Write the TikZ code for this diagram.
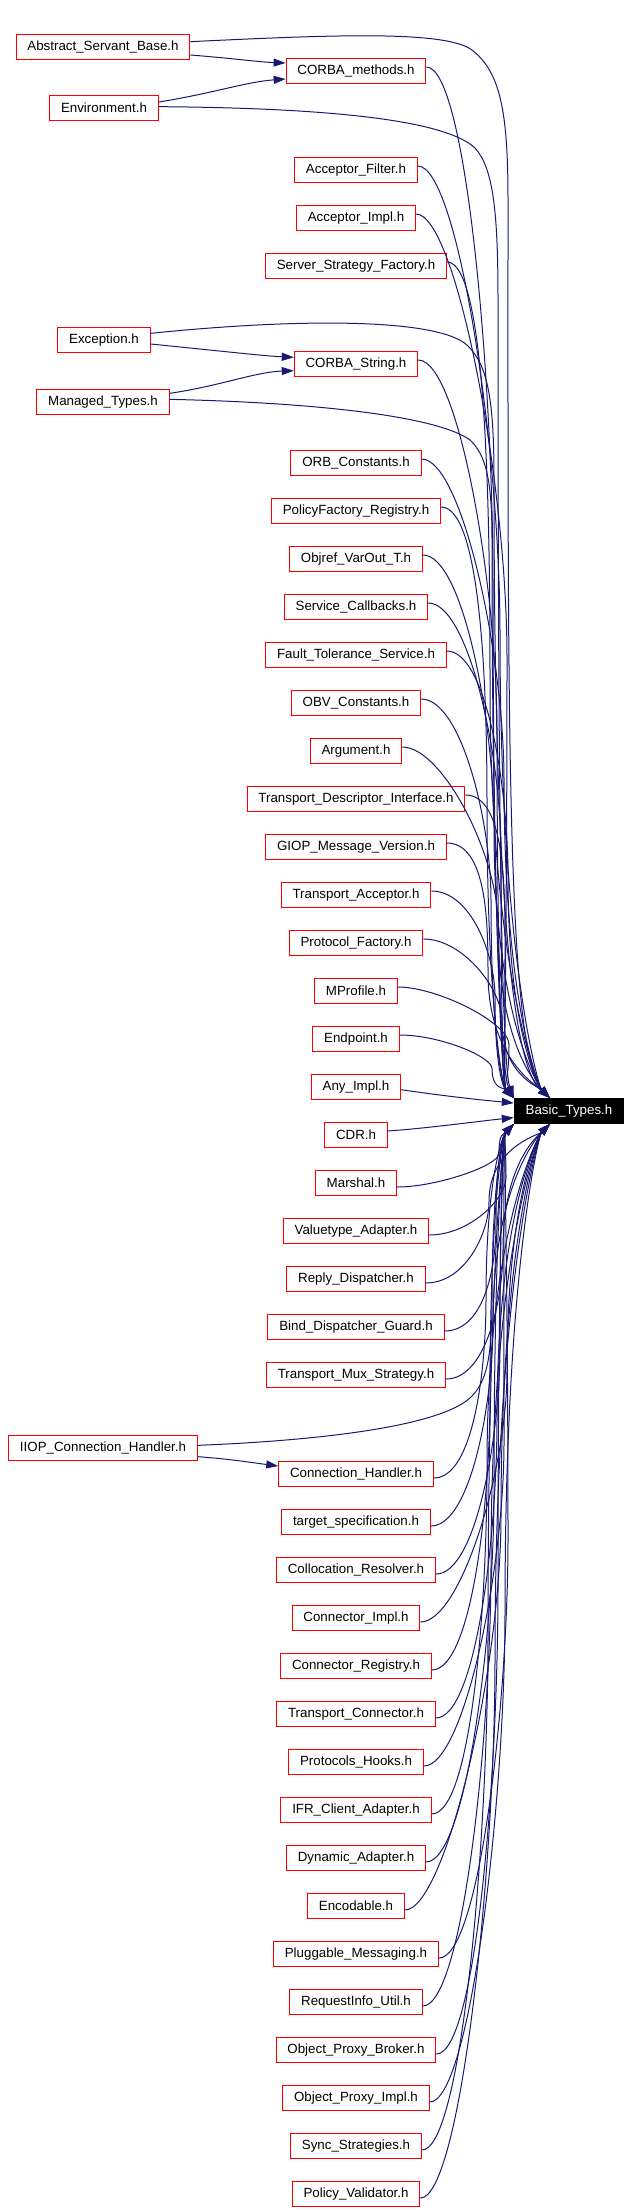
\documentclass[tikz,border=0pt]{standalone}
\usepackage{fontspec}
\setmainfont{Liberation Sans}
\usetikzlibrary{arrows.meta,calc}
\definecolor{edgeblue}{HTML}{191970}
\tikzset{
  file/.style={draw=red, line width=0.75pt, fill=white, minimum height=18.75pt,
    inner xsep=8.5pt, inner ysep=0pt, font=\fontsize{10}{12}\selectfont},
  dep/.style={->, draw=edgeblue, line width=0.75pt},
}

\begin{document}
\begin{tikzpicture}[x=0.75pt, y=-0.75pt, >={Triangle[length=9pt,width=6pt]}]
\useasboundingbox (0,0) rectangle (631,2212);

% files that include Basic_Types.h
\node[file] (asb) at (103,47) {Abstract\_Servant\_Base.h};
\node[file] (env) at (104,108) {Environment.h};
\node[file] (exc) at (104,340) {Exception.h};
\node[file] (mtyp) at (103,402) {Managed\_Types.h};
\node[file] (iiop) at (103,1448) {IIOP\_Connection\_Handler.h};

\node[file] (cmeth) at (356,71) {CORBA\_methods.h};
\node[file] (afil) at (356,170) {Acceptor\_Filter.h};
\node[file] (aimpl) at (356,218) {Acceptor\_Impl.h};
\node[file] (ssf) at (356,266) {Server\_Strategy\_Factory.h};
\node[file] (cstr) at (356,364) {CORBA\_String.h};
\node[file] (orbc) at (356,463) {ORB\_Constants.h};
\node[file] (pfr) at (356,511) {PolicyFactory\_Registry.h};
\node[file] (objref) at (356,559) {Objref\_VarOut\_T.h};
\node[file] (svccb) at (356,607) {Service\_Callbacks.h};
\node[file] (fts) at (356,655) {Fault\_Tolerance\_Service.h};
\node[file] (obvc) at (356,703) {OBV\_Constants.h};
\node[file] (arg) at (356,751) {Argument.h};
\node[file] (tdi) at (356,799) {Transport\_Descriptor\_Interface.h};
\node[file] (giop) at (356,847) {GIOP\_Message\_Version.h};
\node[file] (tacc) at (356,895) {Transport\_Acceptor.h};
\node[file] (pfac) at (356,943) {Protocol\_Factory.h};
\node[file] (mprof) at (356,991) {MProfile.h};
\node[file] (endp) at (356,1039) {Endpoint.h};
\node[file] (anyi) at (356,1087) {Any\_Impl.h};
\node[file] (cdr) at (356,1135) {CDR.h};
\node[file] (marsh) at (356,1183) {Marshal.h};
\node[file] (vta) at (356,1231) {Valuetype\_Adapter.h};
\node[file] (rdisp) at (356,1279) {Reply\_Dispatcher.h};
\node[file] (bdg) at (356,1327) {Bind\_Dispatcher\_Guard.h};
\node[file] (tms) at (356,1375) {Transport\_Mux\_Strategy.h};
\node[file] (chand) at (356,1474) {Connection\_Handler.h};
\node[file] (tspec) at (356,1522) {target\_specification.h};
\node[file] (colres) at (356,1570) {Collocation\_Resolver.h};
\node[file] (cimpl) at (356,1618) {Connector\_Impl.h};
\node[file] (creg) at (356,1666) {Connector\_Registry.h};
\node[file] (tconn) at (356,1714) {Transport\_Connector.h};
\node[file] (phooks) at (356,1762) {Protocols\_Hooks.h};
\node[file] (ifr) at (356,1810) {IFR\_Client\_Adapter.h};
\node[file] (dyna) at (356,1858) {Dynamic\_Adapter.h};
\node[file] (enc) at (356,1906) {Encodable.h};
\node[file] (pmsg) at (356,1954) {Pluggable\_Messaging.h};
\node[file] (riu) at (356,2002) {RequestInfo\_Util.h};
\node[file] (opb) at (356,2050) {Object\_Proxy\_Broker.h};
\node[file] (opi) at (356,2098) {Object\_Proxy\_Impl.h};
\node[file] (sync) at (356,2146) {Sync\_Strategies.h};
\node[file] (polv) at (356,2194) {Policy\_Validator.h};

\node[file, draw=black, fill=black, text=white] (bt) at (569,1111) {Basic\_Types.h};

\coordinate (tc) at (bt.north west);
\coordinate (tm) at ([xshift=27pt]bt.north west);
\coordinate (bc) at (bt.south west);
\coordinate (bm) at ([xshift=27pt]bt.south west);

% second level
\draw[dep] ([yshift=-6pt]asb.east) .. controls (240,59) and (258,62) .. ([yshift=6pt]cmeth.west);
\draw[dep] ([yshift=4.5pt]env.east) .. controls (215,93) and (245,82) .. ([yshift=-6pt]cmeth.west);
\draw[dep] ([yshift=-3pt]exc.east) .. controls (230,352) and (265,356) .. ([yshift=5pt]cstr.west);
\draw[dep] ([yshift=6.5pt]mtyp.east) .. controls (220,386) and (255,372) .. ([yshift=-5pt]cstr.west);
\draw[dep] ([yshift=-6.5pt]iiop.east) .. controls (230,1459) and (255,1463) .. ([yshift=6pt]chand.west);

% left column to Basic_Types.h
\draw[dep] ([yshift=4pt]asb.east) .. controls (330,35) and (445,30) .. (472,50)
  .. controls (500,72) and (508,110) .. (508,200) .. controls (508,700) and (506,1050) .. (tm);
\draw[dep] ([yshift=1pt]env.east) .. controls (330,108) and (445,120) .. (475,148)
  .. controls (493,168) and (498,210) .. (498,300) .. controls (498,700) and (500,1060) .. (tc);
\draw[dep] ([yshift=5pt]exc.east) .. controls (300,318) and (440,318) .. (468,346)
  .. controls (488,366) and (494,400) .. (494,480) .. controls (494,800) and (505,1060) .. (tm);
\draw[dep] ([yshift=2pt]mtyp.east) .. controls (330,403) and (440,418) .. (470,440)
  .. controls (486,455) and (492,480) .. (492,540) .. controls (492,850) and (500,1070) .. (tc);
\draw[dep] ([yshift=2pt]iiop.east) .. controls (330,1440) and (440,1425) .. (470,1398)
  .. controls (486,1383) and (492,1360) .. (492,1300) .. controls (492,1200) and (500,1140) .. (bc);

% next to Basic_Types.h
\draw[dep] ([yshift=-2pt]anyi.east) .. controls (430,1094) and (470,1099) .. ([yshift=6pt]bt.west);
\draw[dep] ([yshift=3pt]cdr.east) .. controls (430,1128) and (480,1121) .. ([yshift=-5pt]bt.west);

\foreach \src/\tgt/\dir [count=\i] in {cmeth/tc/1, afil/tm/1, aimpl/tc/1, ssf/tm/1, cstr/tc/1,
    orbc/tm/1, pfr/tc/1, objref/tm/1, svccb/tc/1, fts/tm/1, obvc/tc/1, arg/tm/1, tdi/tc/1,
    giop/tm/1, tacc/tc/1, pfac/tm/1, mprof/tc/1, endp/tc/1,
    marsh/bc/-1, vta/bc/-1, rdisp/bm/-1, bdg/bc/-1, tms/bm/-1, chand/bc/-1, tspec/bm/-1,
    colres/bc/-1, cimpl/bm/-1, creg/bc/-1, tconn/bm/-1, phooks/bc/-1, ifr/bm/-1, dyna/bc/-1,
    enc/bm/-1, pmsg/bc/-1, riu/bm/-1, opb/bc/-1, opi/bm/-1, sync/bc/-1, polv/bm/-1}{
  \pgfmathsetmacro\xv{(486+mod(\i*7,24))*0.75}
  \draw[dep] let \p1=(\src.east), \p2=(\tgt) in
    (\x1,{\y1+(\dir)*3pt}) .. controls ({\x1+30pt},{\y1+(\dir)*3pt}) and ({\xv*1pt},{\y1+0.3*(\y2-\y1)})
    .. ({\xv*1pt},{0.5*(\y1+\y2)})
    .. controls ({\xv*1pt},{\y1+0.85*(\y2-\y1)}) and ({\x2-8pt},{\y2+(\dir)*8pt}) .. (\p2);
}
\end{tikzpicture}
\end{document}
